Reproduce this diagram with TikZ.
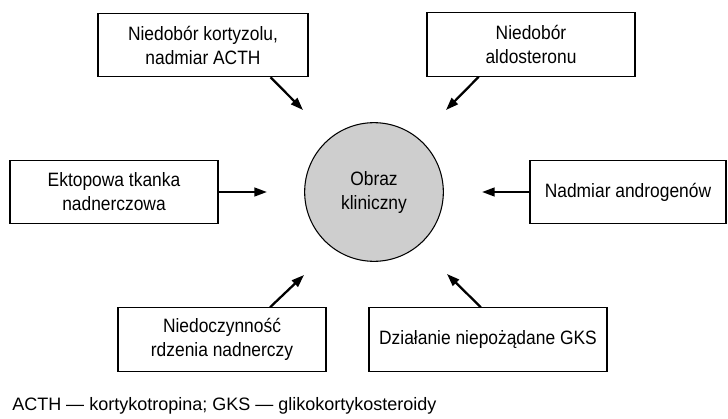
\documentclass[tikz,border=0pt]{standalone}
\usepackage{fontspec}
\setmainfont{Liberation Sans}[FakeStretch=0.9]
\newfontfamily\notefont{Liberation Sans}
\usetikzlibrary{arrows.meta,calc}
\definecolor{circfill}{RGB}{206,206,206}
\begin{document}
\begin{tikzpicture}[x=0.75pt,y=-0.75pt,
  box/.style={draw,line width=0.8pt,align=center,minimum height=47.6pt,inner sep=0pt,
    font=\fontsize{14.5}{18}\selectfont},
  arr/.style={line width=1.7pt,-{Triangle[length=9.5pt,width=6.5pt]}}]
\path[use as bounding box] (0,0) rectangle (728,418);

\node[draw,line width=0.8pt,circle,fill=circfill,minimum size=104pt,inner sep=0pt,align=center,
  font=\fontsize{14.5}{18}\selectfont] (c) at (374,192) {Obraz\\kliniczny};

\node[box,minimum width=157.5pt] (tl) at (203,45) {Niedobór kortyzolu,\\nadmiar ACTH};
\node[box,minimum width=156pt] (tr) at (531,44.5) {Niedobór\\aldosteronu};
\node[box,minimum width=156pt] (l) at (114,192) {Ektopowa tkanka\\nadnerczowa};
\node[box,minimum width=147pt] (r) at (628,192) {Nadmiar androgenów};
\node[box,minimum width=156pt] (bl) at (222,339.5) {Niedoczynność\\rdzenia nadnerczy};
\node[box,minimum width=178.5pt] (br) at (488,339.5) {Działanie niepożądane GKS};

\coordinate (e1) at (303,110);
\coordinate (e2) at (446,110);
\coordinate (e3) at (267,192);
\coordinate (e4) at (482,192);
\coordinate (e5) at (304,275);
\coordinate (e6) at (447,274);

\draw[arr] ($(tl.south west)!0.82!(tl.south east)$) -- (e1);
\draw[arr] ($(tr.south west)!0.25!(tr.south east)$) -- (e2);
\draw[arr] (l.east) -- (e3);
\draw[arr] (r.west) -- (e4);
\draw[arr] ($(bl.north west)!0.73!(bl.north east)$) -- (e5);
\draw[arr] ($(br.north west)!0.47!(br.north east)$) -- (e6);

\node[anchor=base west,inner sep=0pt,font=\notefont\fontsize{13.5}{16}\selectfont] (note) at (12,410)
  {ACTH — kortykotropina; GKS — glikokortykosteroidy};
\end{tikzpicture}
\end{document}
